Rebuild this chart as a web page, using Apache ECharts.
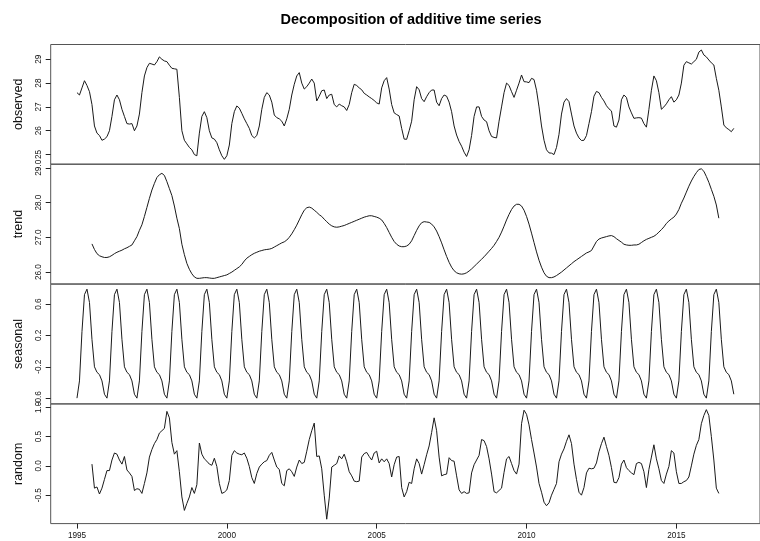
<!DOCTYPE html>
<html>
<head>
<meta charset="utf-8">
<script src="https://cdn.jsdelivr.net/npm/echarts/dist/echarts.min.js"></script>
<style>
html,body{margin:0;padding:0;background:#fff;}
#chart{width:760px;height:541px;}
</style>
</head>
<body>
<div id="chart"></div>
<script>
// ---- data (monthly, Jan 1995 - Dec 2016) ----
const startYear = 1995;
const observed = [
27.6,27.5,27.8,28.1,27.9,27.64,27.1,26.2,25.9,25.8,25.6,25.65,
25.75,26.0,26.6,27.3,27.5,27.3,26.9,26.6,26.3,26.28,26.3,26.0,
26.2,26.7,27.6,28.3,28.65,28.83,28.8,28.76,28.9,29.1,29.0,28.93,
28.9,28.75,28.62,28.6,28.58,27.4,26.0,25.6,25.45,25.3,25.2,25.0,
24.95,25.9,26.6,26.8,26.55,26.0,25.7,25.65,25.5,25.2,24.95,24.8,
24.95,25.4,26.3,26.8,27.04,26.95,26.73,26.5,26.3,26.1,25.8,25.7,
25.8,26.2,26.9,27.4,27.6,27.5,27.2,26.66,26.55,26.5,26.4,26.2,
26.5,26.9,27.5,27.95,28.3,28.44,28.0,27.75,27.85,28.0,28.17,28.0,
27.25,27.45,27.68,27.71,27.35,27.5,27.53,27.1,27.0,27.12,27.05,27.0,
26.85,27.1,27.6,27.95,27.9,27.8,27.72,27.57,27.5,27.42,27.35,27.27,
27.17,27.12,27.8,28.1,28.23,27.75,27.1,26.75,26.68,26.62,26.1,25.65,
25.64,26.0,26.4,27.3,27.85,27.72,27.35,27.22,27.43,27.6,27.71,27.71,
27.2,27.05,27.35,27.5,27.45,27.2,26.8,26.2,25.82,25.55,25.35,25.1,
24.92,25.2,25.8,26.6,27.0,27.0,26.6,26.45,26.38,26.0,25.76,25.72,
25.7,26.4,27.0,27.6,28.0,27.9,27.64,27.4,27.7,28.0,28.34,28.06,
28.05,28.02,28.2,28.15,27.7,27.0,26.2,25.6,25.2,25.07,25.06,25.0,
25.3,25.85,26.7,27.2,27.35,27.22,26.7,26.2,25.9,25.7,25.59,25.6,
25.8,26.3,26.8,27.45,27.65,27.6,27.4,27.25,27.05,26.92,26.83,26.2,
26.15,26.45,27.3,27.5,27.4,27.0,26.75,26.52,26.54,26.55,26.53,26.3,
26.15,26.9,27.7,28.3,28.1,27.6,26.9,27.0,27.13,27.3,27.43,27.2,
27.3,27.5,28.0,28.75,28.9,28.85,28.8,28.9,29.0,29.3,29.39,29.18,
29.1,28.97,28.85,28.76,28.2,27.7,27.0,26.24,26.12,26.05,25.96,26.1
];
// trend and random: Jul 1995 - Jun 2016
const componentStart = 1995.5;
const trend = [
26.81,26.65,26.53,26.47,26.44,26.42,
26.42,26.44,26.48,26.53,26.57,26.6,26.63,26.67,26.7,26.74,26.78,26.9,
27.02,27.2,27.36,27.6,27.86,28.12,28.36,28.55,28.72,28.8,28.84,28.78,
28.6,28.4,28.2,27.9,27.55,27.25,26.8,26.5,26.25,26.08,25.95,25.86,
25.82,25.82,25.83,25.84,25.84,25.83,25.82,25.82,25.84,25.86,25.88,25.9,
25.92,25.96,26.0,26.05,26.1,26.15,26.22,26.32,26.4,26.45,26.5,26.54,
26.57,26.6,26.62,26.64,26.65,26.66,26.68,26.72,26.76,26.8,26.84,26.87,
26.92,27.0,27.1,27.22,27.35,27.5,27.65,27.78,27.85,27.87,27.84,27.78,
27.72,27.65,27.6,27.52,27.45,27.38,27.33,27.3,27.29,27.3,27.32,27.34,
27.37,27.4,27.43,27.46,27.49,27.52,27.55,27.58,27.6,27.62,27.62,27.6,
27.58,27.55,27.5,27.4,27.28,27.14,27.0,26.88,26.8,26.75,26.73,26.73,
26.75,26.8,26.9,27.05,27.2,27.33,27.42,27.45,27.44,27.43,27.38,27.3,
27.18,27.02,26.84,26.64,26.45,26.28,26.14,26.04,25.98,25.95,25.94,25.95,
25.98,26.03,26.09,26.16,26.23,26.3,26.37,26.44,26.52,26.6,26.68,26.77,
26.88,27.0,27.15,27.32,27.5,27.66,27.8,27.9,27.95,27.95,27.9,27.78,
27.6,27.38,27.12,26.85,26.58,26.34,26.14,25.98,25.88,25.84,25.84,25.86,
25.9,25.95,26.0,26.06,26.12,26.18,26.24,26.3,26.35,26.4,26.45,26.5,
26.55,26.58,26.62,26.75,26.88,26.95,26.98,27.0,27.02,27.04,27.05,27.02,
26.96,26.91,26.86,26.8,26.78,26.77,26.77,26.78,26.78,26.8,26.85,26.9,
26.94,26.97,27.0,27.03,27.08,27.15,27.22,27.3,27.4,27.47,27.53,27.58,
27.67,27.8,27.98,28.13,28.3,28.47,28.62,28.75,28.86,28.95,28.97,28.9,
28.75,28.58,28.38,28.18,27.93,27.55
];
// seasonal figure Jan..Dec (repeats every year)
const seasonalFigure = [-0.60,-0.38,0.25,0.72,0.79,0.62,0.15,-0.20,-0.27,-0.30,-0.38,-0.55];
const random = [
0.03,-0.38,-0.36,-0.48,-0.38,-0.23,
-0.08,-0.08,0.10,0.22,0.20,0.10,0.03,0.16,-0.07,-0.12,-0.18,-0.42,
-0.39,-0.40,-0.47,-0.30,-0.12,0.15,0.28,0.38,0.45,0.56,0.60,0.64,
0.93,0.82,0.40,0.20,0.26,-0.10,-0.53,-0.76,-0.64,-0.53,-0.37,-0.47,
-0.32,0.39,0.20,0.12,0.08,0.03,0.01,0.13,-0.01,-0.30,-0.47,-0.45,
-0.41,-0.25,0.18,0.26,0.22,0.20,0.19,0.22,0.13,-0.01,-0.20,-0.30,
-0.13,-0.02,0.03,0.07,0.09,0.18,0.23,0.10,-0.02,-0.06,-0.30,-0.34,
-0.08,-0.05,-0.10,-0.18,-0.02,0.10,0.04,0.06,0.25,0.45,0.60,0.73,
0.16,0.17,-0.05,-0.50,-0.91,-0.55,-0.02,0.01,0.04,0.17,0.12,0.20,
0.07,-0.10,-0.17,-0.26,-0.27,-0.26,0.15,0.21,0.23,0.16,0.10,0.22,
0.25,0.05,0.12,0.07,0.12,0.04,-0.19,0.02,0.15,0.16,-0.37,-0.53,
-0.44,-0.28,-0.30,-0.05,0.12,0.04,-0.14,0.02,0.19,0.34,0.57,0.82,
0.60,0.15,-0.17,-0.15,-0.14,0.14,0.09,0.08,-0.17,-0.41,-0.47,-0.44,
-0.47,-0.46,-0.12,0.02,0.10,0.18,0.45,0.43,0.33,0.12,-0.14,-0.44,
-0.46,-0.42,-0.38,-0.11,0.12,0.16,0.04,-0.08,-0.14,0.03,0.72,0.95,
0.88,0.70,0.45,0.22,-0.02,-0.30,-0.45,-0.62,-0.68,-0.63,-0.50,-0.40,
-0.30,0.07,0.20,0.29,0.42,0.53,0.38,0.03,-0.23,-0.45,-0.50,-0.37,
-0.12,-0.04,-0.05,-0.04,0.05,0.24,0.38,0.49,0.33,0.18,-0.03,-0.28,
-0.29,-0.20,0.03,0.10,-0.03,-0.08,-0.12,-0.15,0.04,0.06,0.04,-0.10,
-0.37,-0.06,0.15,0.36,0.12,-0.05,-0.25,-0.30,-0.14,-0.01,0.26,0.22,
-0.10,-0.30,-0.30,-0.27,-0.25,-0.19,0.00,0.20,0.35,0.45,0.72,0.86,
0.96,0.86,0.50,0.10,-0.38,-0.47
];
const xTicks = [1995, 2000, 2005, 2010, 2015];
const panelNames = ['observed', 'trend', 'seasonal', 'random'];
const yTickValues = [
  [25, 26, 27, 28, 29],
  [26, 27, 28, 29],
  [-0.6, -0.2, 0.2, 0.6],
  [-0.5, 0, 0.5, 1]
];
const yTickLabels = [
  ['25', '26', '27', '28', '29'],
  ['26.0', '27.0', '28.0', '29.0'],
  ['-0.6', '-0.2', '0.2', '0.6'],
  ['-0.5', '0.0', '0.5', '1.0']
];
const titleText = 'Decomposition of additive time series';

// ---- build series data ----
const toPairs = (arr, t0) => arr.map((v, i) => [t0 + i / 12, v]);
const seasonal = observed.map((_, i) => seasonalFigure[i % 12]);
const seriesData = [
  toPairs(observed, startYear),
  toPairs(trend, componentStart),
  toPairs(seasonal, startYear),
  toPairs(random, componentStart)
];

// ---- layout ----
const FONT = '"Liberation Sans", Arial, sans-serif';
const panelTops = [44.5, 164.3, 284.2, 404];
const panelH = 119.6;
const plotLeft = 50.7, plotW = 721;
const yRanges = [[24.6, 29.62], [25.66, 29.10], [-0.672, 0.853], [-0.985, 1.056]];
const xRange = [1994.123, 2017.79];

const grids = [], xAxes = [], yAxes = [], series = [];
panelNames.forEach((name, k) => {
  const last = k === panelNames.length - 1;
  grids.push({left: plotLeft, width: plotW, top: panelTops[k], height: panelH,
    show: true, borderColor: '#555', borderWidth: 1, backgroundColor: 'transparent'});
  xAxes.push({type: 'value', gridIndex: k, min: xRange[0], max: xRange[1], position: 'bottom',
    axisLine: {show: false, onZero: false}, splitLine: {show: false},
    axisTick: {show: last, length: 5, customValues: xTicks, lineStyle: {color: '#222'}},
    axisLabel: {show: last, customValues: xTicks, fontSize: 8.2, margin: 8, color: '#111',
      fontFamily: FONT, formatter: v => String(Math.round(v))}});
  const tv = yTickValues[k], tl = yTickLabels[k];
  yAxes.push({type: 'value', gridIndex: k, min: yRanges[k][0], max: yRanges[k][1], position: 'left',
    name: name, nameLocation: 'middle', nameGap: 26,
    nameTextStyle: {fontSize: 12.5, color: '#111', fontFamily: FONT},
    axisLine: {show: false, onZero: false}, splitLine: {show: false},
    axisTick: {show: true, length: 5, customValues: tv, lineStyle: {color: '#222'}},
    axisLabel: {customValues: tv, rotate: 90, fontSize: 8.2, margin: 8, color: '#111', fontFamily: FONT,
      formatter: v => { let best = 0; tv.forEach((t, j) => { if (Math.abs(t - v) < Math.abs(tv[best] - v)) best = j; }); return tl[best]; }}});
  series.push({type: 'line', xAxisIndex: k, yAxisIndex: k, data: seriesData[k],
    showSymbol: false, symbol: 'none', lineStyle: {color: '#1a1a1a', width: 1}, silent: true});
});

const chart = echarts.init(document.getElementById('chart'), null, {renderer: 'canvas'});
chart.setOption({
  animation: false,
  backgroundColor: '#fff',
  textStyle: {fontFamily: FONT},
  title: {text: titleText, left: 406, textAlign: 'center', top: 7,
    textStyle: {fontSize: 14.5, fontWeight: 'bold', color: '#000', fontFamily: FONT}},
  grid: grids, xAxis: xAxes, yAxis: yAxes, series: series
});
</script>
</body>
</html>
